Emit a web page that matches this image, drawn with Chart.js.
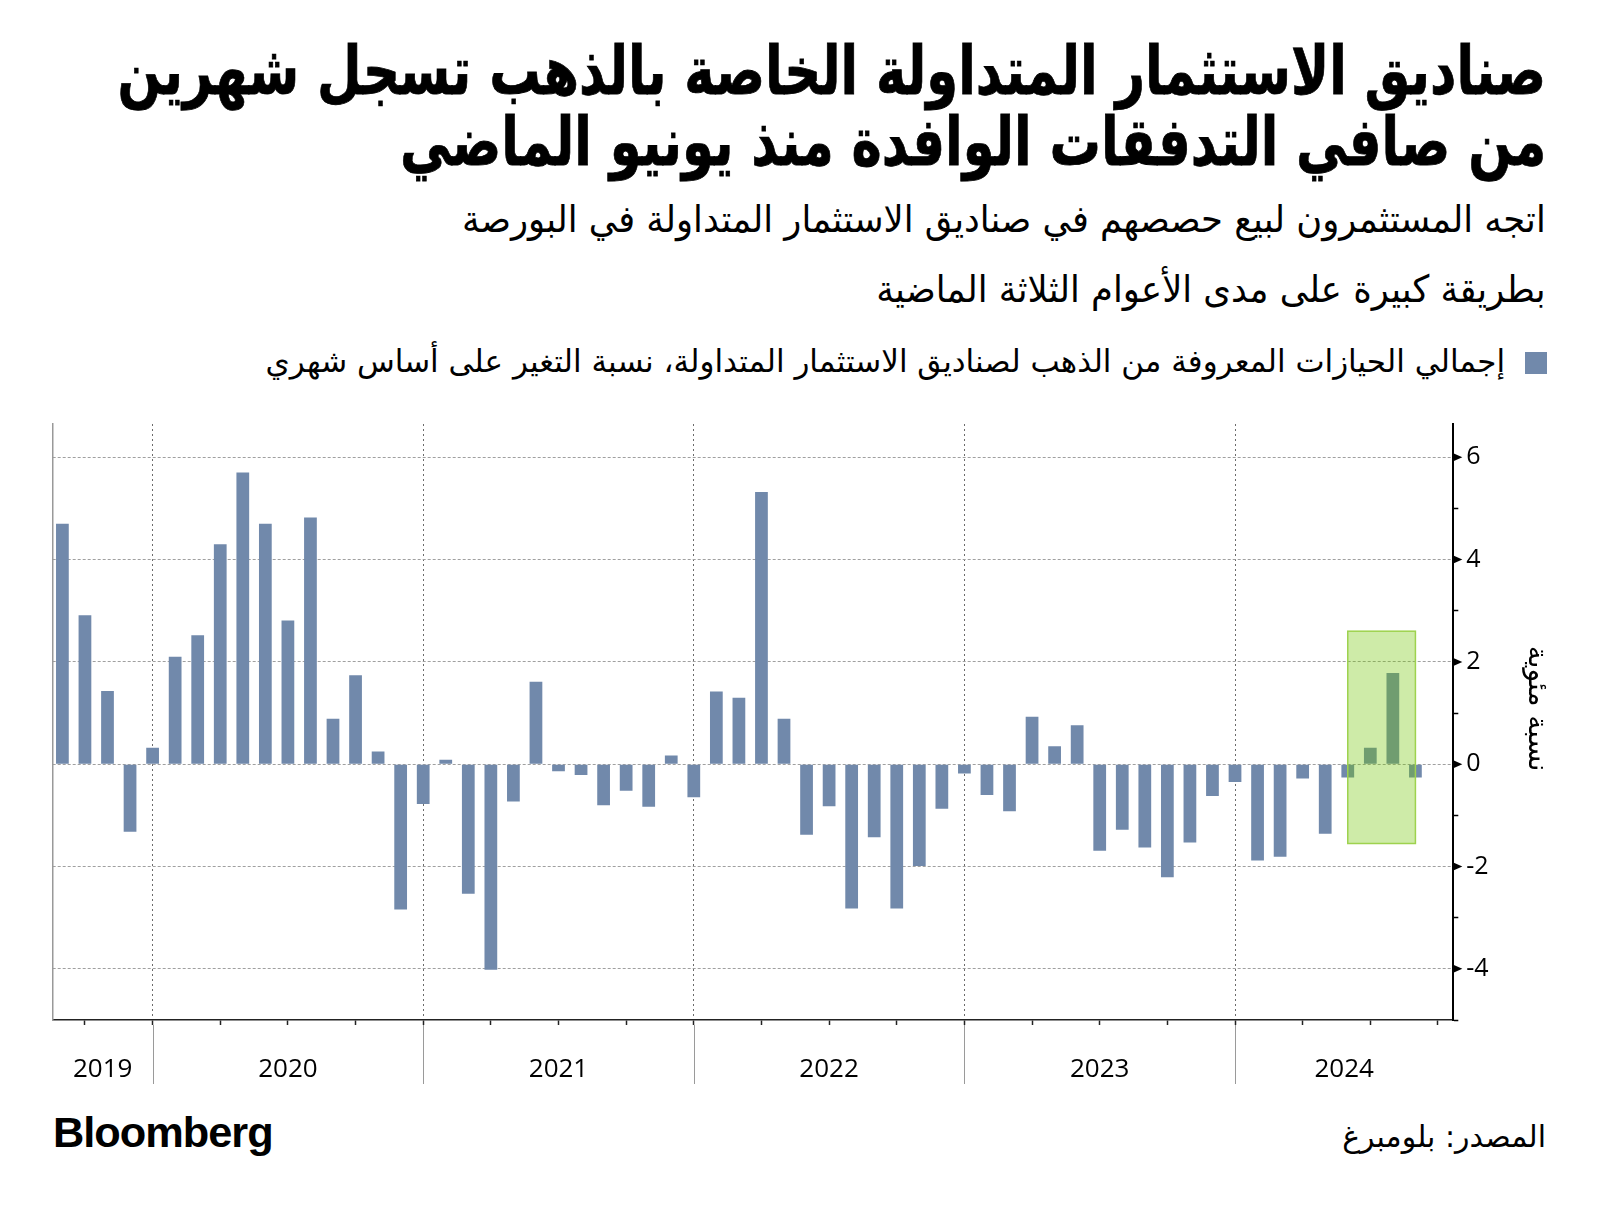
<!DOCTYPE html>
<html><head><meta charset="utf-8">
<script src="https://cdn.jsdelivr.net/npm/chart.js@4.4.1/dist/chart.umd.min.js"></script>
<style>
html,body{margin:0;padding:0;background:#fff;}
body{width:1600px;height:1212px;position:relative;overflow:hidden;}
.t{position:absolute;right:54px;white-space:nowrap;line-height:1;direction:rtl;font-family:'DejaVu Sans',sans-serif;color:#000;transform-origin:right center;}
.bold{font-weight:bold;-webkit-text-stroke:0.8px #000;}
#chartBox{position:absolute;left:0;top:400px;width:1600px;height:700px;}
#swatch{position:absolute;left:1525px;top:352px;width:22px;height:22px;background:#7189ab;}
#bbg{position:absolute;left:53px;font-family:'Liberation Sans',Arial,sans-serif;font-weight:bold;white-space:nowrap;line-height:1;letter-spacing:-1px;color:#000;}
</style></head>
<body>
<div class="t bold" id="t1" data-base="94">صناديق الاستثمار المتداولة الخاصة بالذهب تسجل شهرين</div>
<div class="t bold" id="t2" data-base="165">من صافي التدفقات الوافدة منذ يونيو الماضي</div>
<div class="t" id="s1" data-base="233">اتجه المستثمرون لبيع حصصهم في صناديق الاستثمار المتداولة في البورصة</div>
<div class="t" id="s2" data-base="303">بطريقة كبيرة على مدى الأعوام الثلاثة الماضية</div>
<div id="swatch"></div>
<div class="t" id="lg" style="right:95px" data-base="372">إجمالي الحيازات المعروفة من الذهب لصناديق الاستثمار المتداولة، نسبة التغير على أساس شهري</div>
<div id="chartBox"><canvas id="c" width="1600" height="700" style="width:1600px;height:700px"></canvas></div>
<div id="bbg" data-base="1148">Bloomberg</div>
<div class="t" id="src" data-base="1147">المصدر: بلومبرغ</div>
<script>
// ---- data ----
const months = [
 '2019-08','2019-09','2019-10','2019-11','2019-12',
 '2020-01','2020-02','2020-03','2020-04','2020-05','2020-06','2020-07','2020-08','2020-09','2020-10','2020-11','2020-12',
 '2021-01','2021-02','2021-03','2021-04','2021-05','2021-06','2021-07','2021-08','2021-09','2021-10','2021-11','2021-12',
 '2022-01','2022-02','2022-03','2022-04','2022-05','2022-06','2022-07','2022-08','2022-09','2022-10','2022-11','2022-12',
 '2023-01','2023-02','2023-03','2023-04','2023-05','2023-06','2023-07','2023-08','2023-09','2023-10','2023-11','2023-12',
 '2024-01','2024-02','2024-03','2024-04','2024-05','2024-06','2024-07','2024-08'
];
const values = [
 4.70, 2.91, 1.43, -1.32, 0.32,
 2.10, 2.52, 4.30, 5.70, 4.70, 2.81, 4.82, 0.89, 1.74, 0.25, -2.84, -0.78,
 0.085, -2.53, -4.02, -0.73, 1.61, -0.14, -0.21, -0.80, -0.52, -0.83, 0.17, -0.645,
 1.42, 1.30, 5.32, 0.89, -1.38, -0.82, -2.82, -1.43, -2.82, -1.99, -0.87, -0.18,
 -0.60, -0.92, 0.93, 0.35, 0.76, -1.69, -1.28, -1.63, -2.21, -1.53, -0.62, -0.35,
 -1.88, -1.81, -0.28, -1.36, -0.26, 0.32, 1.785, -0.26
];
const years = ['2019','2020','2021','2022','2023','2024'];
const yTickLabels = [6, 4, 2, 0, -2, -4];
const highlightFrom = '2024-05';
const highlightTo = '2024-08';
const highlightTop = 2.6;
const highlightBottom = -1.55;
const seriesLabel = 'إجمالي الحيازات المعروفة من الذهب لصناديق الاستثمار المتداولة، نسبة التغير على أساس شهري';
const axisTitle = 'نسبة مئوية';

// ---- text fitting ----
function fit(ids, w, k){
  k = k || 1;
  const el0 = document.getElementById(ids[0]);
  el0.style.fontSize = '40px';
  const m = el0.getBoundingClientRect().width;
  const s = 40 * w / m;
  ids.forEach(id => {
    const el = document.getElementById(id);
    const fs = s * k;
    el.style.fontSize = fs + 'px';
    if (k !== 1) el.style.transform = 'scaleX(' + (1 / k) + ')';
    el.style.top = (+el.dataset.base - 0.846 * fs) + 'px';
  });
}
fit(['t1','t2'], 1429, 1.3);
fit(['s1','s2'], 1084, 1.06);
fit(['lg'], 1240);
fit(['src'], 204);
fit(['bbg'], 219);

// ---- chart ----
const monthIndex = s => { const [yy, mm] = s.split('-').map(Number); return (yy - 2019) * 12 + (mm - 12); };
const points = months.map((m, i) => ({x: monthIndex(m), y: values[i]}));
const xMin = monthIndex(months[0]) - 0.43;
const xMax = monthIndex(months[months.length - 1]) + 1.68;
const yearBounds = years.slice(1).map(y => (Number(y) - 2020) * 12);
const yearCenters = years.map(y => {
  const a = Math.max(xMin, (Number(y) - 2020) * 12), b = Math.min(xMax, (Number(y) - 2019) * 12);
  return (a + b) / 2;
});
const labelMap = new Map(years.map((y, i) => [yearCenters[i], y]));
const T = 'rgba(0,0,0,0)';

const decor = {
  id: 'decor',
  afterDatasetsDraw(chart){
    const {ctx, scales: {x, y}} = chart;
    const x1 = x.getPixelForValue(monthIndex(highlightFrom));
    const x2 = x.getPixelForValue(monthIndex(highlightTo));
    const y1 = y.getPixelForValue(highlightTop);
    const y2 = y.getPixelForValue(highlightBottom);
    ctx.save();
    ctx.fillStyle = 'rgba(110,197,0,0.34)';
    ctx.fillRect(x1, y1, x2 - x1, y2 - y1);
    ctx.strokeStyle = '#9ed24e';
    ctx.lineWidth = 1.5;
    ctx.strokeRect(x1, y1, x2 - x1, y2 - y1);
    ctx.restore();
  },
  afterDraw(chart){
    const {ctx, scales: {x, y}} = chart;
    ctx.save();
    ctx.strokeStyle = '#9a9a9a';
    ctx.lineWidth = 1;
    yearBounds.forEach(b => {
      const px = Math.round(x.getPixelForValue(b)) + 0.5;
      ctx.beginPath();
      ctx.moveTo(px, x.top + 5);
      ctx.lineTo(px, x.top + 64);
      ctx.stroke();
    });
    ctx.fillStyle = '#000';
    yTickLabels.forEach(v => {
      const py = y.getPixelForValue(v);
      const px = y.left;
      ctx.beginPath();
      ctx.moveTo(px, py - 4);
      ctx.lineTo(px + 9, py);
      ctx.lineTo(px, py + 4);
      ctx.closePath();
      ctx.fill();
    });
    ctx.restore();
  }
};

new Chart(document.getElementById('c'), {
  type: 'bar',
  data: {
    datasets: [{
      label: seriesLabel,
      data: points,
      backgroundColor: '#7189ab',
      borderWidth: 0,
      barPercentage: 0.9,
      categoryPercentage: 0.8
    }]
  },
  options: {
    responsive: false,
    animation: false,
    devicePixelRatio: 1,
    layout: {padding: {left: 52.7, top: 24, right: 46.7, bottom: 0}},
    plugins: {legend: {display: false}, tooltip: {enabled: false}},
    scales: {
      x: {
        type: 'linear', position: 'bottom', min: xMin, max: xMax, offset: false,
        afterBuildTicks: s => {
          const vals = new Set();
          for (let v = Math.ceil(xMin / 3) * 3; v <= xMax; v += 3) vals.add(v);
          yearCenters.forEach(c => vals.add(c));
          s.ticks = [...vals].sort((a, b) => a - b).map(v => ({value: v}));
        },
        afterFit: s => { s.height = 80; },
        ticks: {
          callback: v => labelMap.has(v) ? labelMap.get(v) : '',
          autoSkip: false, maxRotation: 0, minRotation: 0,
          font: {family: 'Open Sans', size: 26}, color: '#000', padding: 29
        },
        grid: {
          offset: false,
          color: c => (c.tick && c.tick.value % 12 === 0) ? '#6b6b6b' : T,
          tickColor: c => (c.tick && Number.isInteger(c.tick.value) && c.tick.value % 3 === 0) ? '#222' : T,
          tickLength: 5, lineWidth: 1, tickWidth: 1.5
        },
        border: {color: '#222', width: 1.5, dash: [2, 3]}
      },
      y: {
        type: 'linear', position: 'right', min: -5, max: 6.65,
        afterBuildTicks: s => { const t = []; for (let v = -5; v <= 6; v++) t.push({value: v}); s.ticks = t; },
        afterFit: s => { s.width = 100; },
        ticks: {
          callback: v => yTickLabels.includes(v) ? String(v) : '',
          autoSkip: false, font: {family: 'Open Sans', size: 25}, color: '#000', padding: 8
        },
        grid: {
          color: c => (c.tick && c.tick.value % 2 === 0) ? '#a0a0a0' : T,
          tickColor: c => (c.tick && Math.abs(c.tick.value % 2) === 1) ? '#000' : T,
          tickLength: 5, lineWidth: 1, tickWidth: 1.5
        },
        border: {color: '#000', width: 2, dash: [3, 2]},
        title: {display: true, text: axisTitle + '\u00A0\u00A0\u00A0', font: {family: 'DejaVu Sans', size: 28}, color: '#000', padding: {top: 0, bottom: 0}}
      },
      yLeft: {
        type: 'linear', position: 'left', min: -5, max: 6.65,
        ticks: {display: false},
        grid: {display: false, drawTicks: false},
        border: {display: true, color: '#999', width: 1.5},
        afterFit: s => { s.width = 0; }
      }
    }
  },
  plugins: [decor]
});
</script>
</body></html>
